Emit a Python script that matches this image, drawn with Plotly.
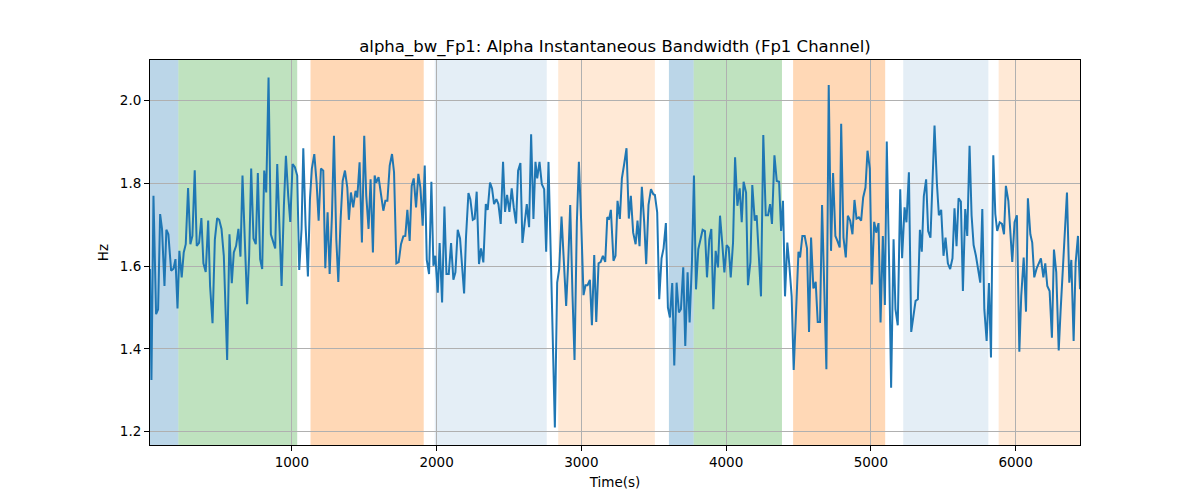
import plotly.graph_objects as go

# ---------------- data ----------------
time_s = [
    20, 30, 44, 62, 76, 90, 103, 120, 133, 147, 166, 182, 196, 210, 223, 239, 253, 267, 283, 299,
    313, 329, 343, 359, 375, 389, 405, 422, 435, 452, 468, 484, 498, 514, 530, 553, 569, 585, 599, 615,
    631, 645, 659, 675, 691, 705, 719, 735, 751, 765, 781, 795, 809,
    823, 839, 855, 871, 885, 899, 915, 929, 945, 959, 975, 989, 1005, 1021, 1037, 1051, 1067, 1079, 1095, 1111,
    1125, 1138, 1155, 1171, 1185, 1201, 1217, 1231, 1247, 1261, 1277, 1291, 1307, 1321, 1337, 1351, 1367, 1383,
    1394, 1408, 1424, 1440, 1452, 1468, 1484, 1500, 1514, 1530, 1544, 1560, 1572, 1583, 1599,
    1618, 1632, 1646, 1660, 1676, 1692, 1706, 1722, 1738, 1754, 1770, 1784, 1798, 1814, 1828, 1842, 1858, 1874,
    1888, 1904, 1918, 1932, 1948, 1964, 1978, 1991, 2008, 2021, 2038, 2054, 2068, 2084, 2100, 2116, 2130, 2146,
    2162, 2176, 2190, 2203, 2220, 2233, 2250, 2263, 2277, 2293, 2307, 2323, 2340, 2353, 2369, 2383, 2397,
    2413, 2427, 2443, 2459, 2473, 2487, 2503, 2519, 2533, 2549, 2563, 2579, 2593, 2609, 2623, 2639, 2653, 2669,
    2683, 2695, 2711, 2727, 2743, 2757, 2773, 2789, 2803, 2817, 2833, 2847, 2863, 2879, 2895, 2909, 2923, 2939,
    2953, 2969, 2983, 2999, 3015, 3029, 3043, 3059, 3073, 3089, 3103, 3119, 3133, 3149, 3165, 3179, 3192,
    3204, 3222, 3236, 3250, 3266, 3280, 3296, 3312, 3328, 3342, 3358, 3375, 3388, 3402, 3418, 3434, 3448, 3464,
    3481, 3497, 3508, 3524, 3538, 3554, 3568, 3584, 3598, 3612, 3628, 3642, 3658, 3674, 3688, 3704, 3718, 3734,
    3748, 3764, 3778, 3792, 3808, 3822, 3838, 3854, 3868, 3884, 3898, 3912, 3928, 3944, 3958, 3974, 3988,
    4004, 4018, 4032, 4048, 4062, 4078, 4094, 4108, 4121, 4138, 4151, 4168, 4181, 4198, 4211, 4228, 4241, 4257,
    4274, 4290, 4304, 4317, 4334, 4350, 4366, 4380, 4393, 4407, 4423, 4437, 4453, 4467, 4483, 4500, 4511, 4527,
    4543, 4559, 4573, 4587, 4603, 4619, 4633, 4649, 4663, 4679, 4693, 4709, 4725, 4739, 4755, 4769, 4785,
    4795, 4811, 4827, 4841, 4857, 4873, 4887, 4901, 4917, 4933, 4947, 4963, 4977, 4993, 5007, 5023, 5037, 5053,
    5067, 5083, 5097, 5110, 5127, 5140, 5157, 5170, 5186, 5203, 5216, 5233, 5246, 5263, 5279, 5295, 5309, 5325,
    5339, 5352, 5366, 5382, 5396, 5412, 5426, 5440, 5456, 5470, 5486, 5502, 5516, 5532, 5548, 5564, 5578,
    5592, 5606, 5622, 5636, 5652, 5666, 5682, 5696, 5710, 5726, 5742, 5756, 5770, 5784, 5800, 5816, 5830, 5846,
    5860, 5873, 5890, 5906, 5920, 5933, 5950, 5963, 5977, 5993, 6009, 6026, 6039, 6056, 6072, 6085, 6102, 6115,
    6129, 6145, 6162, 6175, 6192, 6205, 6219, 6235, 6251, 6265, 6281, 6298, 6311, 6328, 6341, 6355, 6371, 6385,
    6401, 6415, 6431, 6445,
]

alpha_bw_hz = [
    1.593, 1.325, 1.770, 1.484, 1.496, 1.726, 1.690, 1.552, 1.688, 1.677, 1.589, 1.594, 1.617, 1.498, 1.637, 1.573,
    1.633, 1.653, 1.789, 1.653, 1.673, 1.832, 1.649, 1.656, 1.716, 1.607, 1.586, 1.710, 1.552, 1.462, 1.664, 1.716,
    1.712, 1.690, 1.625, 1.373, 1.677, 1.559, 1.633, 1.649, 1.690, 1.623, 1.819, 1.669, 1.508, 1.625, 1.836, 1.667,
    1.653, 1.825, 1.617, 1.593, 1.831,
    1.778, 2.056, 1.677, 1.661, 1.643, 1.847, 1.673, 1.552, 1.746, 1.867, 1.770, 1.707, 1.847, 1.839, 1.819, 1.591,
    1.690, 1.885, 1.698, 1.575, 1.762, 1.835, 1.871, 1.802, 1.710, 1.836, 1.831, 1.595, 1.730, 1.581, 1.722, 1.915,
    1.665, 1.562, 1.714, 1.806, 1.831, 1.790, 1.712, 1.778, 1.742, 1.782, 1.766, 1.851, 1.657, 1.915, 1.770, 1.690,
    1.810, 1.633, 1.819, 1.802, 1.815,
    1.762, 1.734, 1.758, 1.758, 1.843, 1.871, 1.827, 1.607, 1.610, 1.653, 1.672, 1.673, 1.736, 1.661, 1.794, 1.812,
    1.742, 1.823, 1.790, 1.698, 1.843, 1.615, 1.581, 1.804, 1.601, 1.625, 1.536, 1.656, 1.512, 1.744, 1.581, 1.581,
    1.656, 1.567, 1.585, 1.688, 1.667, 1.589, 1.534, 1.669, 1.777, 1.762, 1.712, 1.715, 1.780, 1.605, 1.643, 1.609,
    1.750, 1.736, 1.802, 1.788, 1.750,
    1.762, 1.750, 1.702, 1.852, 1.731, 1.772, 1.731, 1.788, 1.742, 1.703, 1.831, 1.849, 1.656, 1.704, 1.750, 1.694,
    1.919, 1.714, 1.852, 1.812, 1.852, 1.798, 1.786, 1.635, 1.852, 1.625, 1.399, 1.210, 1.560, 1.593, 1.720, 1.602,
    1.504, 1.607, 1.748, 1.528, 1.373, 1.706, 1.852, 1.706, 1.530, 1.554, 1.554, 1.567, 1.457, 1.627, 1.465, 1.607,
    1.610, 1.625, 1.610, 1.718, 1.715,
    1.736, 1.613, 1.625, 1.758, 1.714, 1.812, 1.847, 1.885, 1.715, 1.770, 1.681, 1.653, 1.710, 1.648, 1.792, 1.707,
    1.605, 1.748, 1.786, 1.774, 1.772, 1.730, 1.520, 1.619, 1.643, 1.704, 1.500, 1.476, 1.559, 1.360, 1.560, 1.488,
    1.496, 1.597, 1.407, 1.585, 1.464, 1.609, 1.819, 1.544, 1.641, 1.661, 1.688, 1.685, 1.573, 1.665, 1.690, 1.496,
    1.637, 1.597, 1.722, 1.653, 1.585,
    1.651, 1.645, 1.573, 1.657, 1.863, 1.746, 1.788, 1.706, 1.804, 1.778, 1.554, 1.610, 1.796, 1.710, 1.723, 1.609,
    1.527, 1.917, 1.723, 1.723, 1.750, 1.702, 1.868, 1.806, 1.804, 1.685, 1.758, 1.527, 1.657, 1.602, 1.527, 1.349,
    1.488, 1.635, 1.621, 1.673, 1.673, 1.643, 1.441, 1.669, 1.546, 1.562, 1.465, 1.465, 1.748, 1.514, 1.351, 2.038,
    1.637, 1.825, 1.673, 1.661, 1.645,
    1.944, 1.669, 1.621, 1.722, 1.710, 1.677, 1.760, 1.715, 1.718, 1.710, 1.766, 1.790, 1.879, 1.835, 1.556, 1.707,
    1.681, 1.704, 1.464, 1.673, 1.506, 1.901, 1.593, 1.306, 1.665, 1.496, 1.457, 1.786, 1.619, 1.742, 1.706, 1.827,
    1.441, 1.476, 1.516, 1.520, 1.688, 1.635, 1.769, 1.810, 1.685, 1.669, 1.827, 1.940, 1.802, 1.723, 1.736, 1.625,
    1.669, 1.607, 1.593, 1.619, 1.740,
    1.648, 1.764, 1.756, 1.540, 1.738, 1.673, 1.891, 1.723, 1.651, 1.625, 1.593, 1.560, 1.738, 1.496, 1.419, 1.559,
    1.379, 1.868, 1.726, 1.685, 1.706, 1.702, 1.677, 1.794, 1.758, 1.698, 1.610, 1.706, 1.723, 1.393, 1.528, 1.621,
    1.490, 1.764, 1.677, 1.657, 1.573, 1.594, 1.610, 1.619, 1.573, 1.607, 1.552, 1.540, 1.427, 1.640, 1.585, 1.396,
    1.492, 1.607, 1.690, 1.778, 1.560, 1.615, 1.419, 1.609, 1.673, 1.544,
]

# shaded state segments (seconds)
band_start = [0, 216, 1129, 1987, 2840, 3605, 3776, 4463, 5224, 5883]
band_end = [216, 1037, 1911, 2761, 3508, 3776, 4386, 5099, 5812, 6500]
band_kind = ["blue", "green", "orange", "lightblue", "lightorange",
             "blue", "green", "orange", "lightblue", "lightorange"]

x_ticks = [1000, 2000, 3000, 4000, 5000, 6000]

# ---------------- styling ----------------
band_fill = {
    "blue": "rgba(31,119,180,0.3)",
    "green": "rgba(44,160,44,0.3)",
    "orange": "rgba(255,127,14,0.3)",
    "lightblue": "rgba(31,119,180,0.12)",
    "lightorange": "rgba(255,127,14,0.17)",
}

FONT = "DejaVu Sans, Liberation Sans, sans-serif"

fig = go.Figure()
fig.add_trace(go.Scatter(
    x=time_s, y=alpha_bw_hz, mode="lines",
    line=dict(color="#1f77b4", width=2),
    showlegend=False, hoverinfo="x+y",
))

for s, e, k in zip(band_start, band_end, band_kind):
    fig.add_vrect(x0=s, x1=e, fillcolor=band_fill[k], line_width=0, layer="below")

ymin, ymax = min(alpha_bw_hz), max(alpha_bw_hz)
pad = 0.05 * (ymax - ymin)

fig.update_layout(
    width=1200, height=500,
    margin=dict(l=150, r=120, t=60, b=55, autoexpand=False),
    paper_bgcolor="white", plot_bgcolor="white",
    font=dict(family=FONT, size=14, color="black"),
    title=dict(
        text="alpha_bw_Fp1: Alpha Instantaneous Bandwidth (Fp1 Channel)",
        x=0.5125, xanchor="center", y=0.908, yanchor="middle", yref="container",
        font=dict(family=FONT, size=16.5, color="black"),
    ),
    showlegend=False,
)

axis_common = dict(
    showline=True, mirror=True, linecolor="black", linewidth=1,
    ticks="outside", ticklen=5, tickwidth=1, tickcolor="black",
    showgrid=True, gridcolor="#b0b0b0", gridwidth=1,
    zeroline=False, automargin=False,
    tickfont=dict(family=FONT, size=13.5, color="black"),
)

fig.update_xaxes(
    **axis_common,
    range=[time_s[0], time_s[-1]],
    tickmode="array", tickvals=x_ticks, ticktext=[str(v) for v in x_ticks],
    title=dict(text="Time(s)", standoff=8, font=dict(family=FONT, size=13.5)),
)
fig.update_yaxes(
    **axis_common,
    range=[ymin - pad, ymax + pad],
    dtick=0.2, tick0=0, tickformat=".1f",
    title=dict(text="Hz", standoff=8, font=dict(family=FONT, size=13.5)),
)

fig.write_html("out.html")
